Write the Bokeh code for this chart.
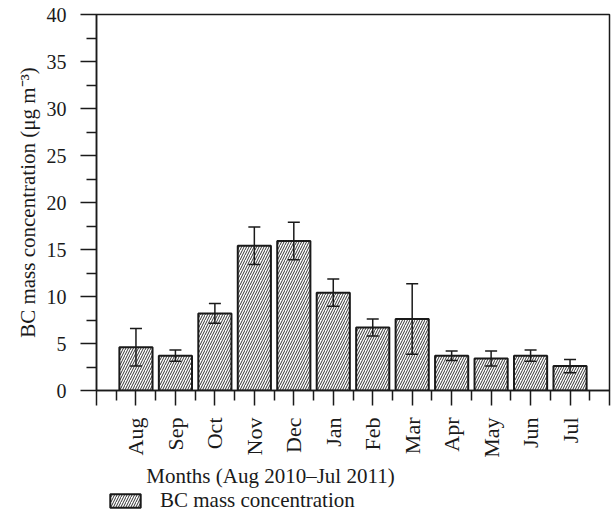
import math
from bokeh.plotting import figure
from bokeh.layouts import column
from bokeh.models import (ColumnDataSource, Range1d, FixedTicker, Whisker, TeeHead,
                          Label, Legend, LegendItem)
from bokeh.embed import file_html
from bokeh.resources import INLINE

months = ["Aug", "Sep", "Oct", "Nov", "Dec", "Jan", "Feb", "Mar", "Apr", "May", "Jun", "Jul"]
bc_mean = [4.6, 3.7, 8.2, 15.4, 15.9, 10.4, 6.7, 7.6, 3.7, 3.4, 3.7, 2.6]
bc_sd = [2.0, 0.6, 1.05, 2.0, 2.0, 1.45, 0.9, 3.75, 0.5, 0.8, 0.6, 0.7]
y_ticks = [0, 5, 10, 15, 20, 25, 30, 35, 40]
y_minor = [2.5, 7.5, 12.5, 17.5, 22.5, 27.5, 32.5, 37.5]

FONT = "Liberation Serif"
INK = "#1a1a1a"
BAR_STYLE = dict(fill_color="white", line_color=INK, line_width=2,
                 hatch_pattern="/", hatch_scale=5, hatch_color="#333333", hatch_weight=1)

pos = list(range(1, len(months) + 1))
lower = [m - s for m, s in zip(bc_mean, bc_sd)]
upper = [m + s for m, s in zip(bc_mean, bc_sd)]
src = ColumnDataSource(dict(x=pos, month=months, mean=bc_mean, lower=lower, upper=upper))

n_slots = len(months) + 1
p = figure(frame_width=513, frame_height=376,
           x_range=Range1d(0, n_slots), y_range=Range1d(0, 40),
           output_backend="svg", toolbar_location=None,
           min_border_left=96, min_border_right=6, min_border_top=14, min_border_bottom=75)
p.grid.visible = False
p.background_fill_color = "white"
p.border_fill_color = "white"
p.outline_line_color = INK
p.outline_line_width = 1.5

r = p.vbar(x="x", top="mean", bottom=0, width=0.84, source=src, **BAR_STYLE)

w = Whisker(base="x", upper="upper", lower="lower", source=src,
            line_color=INK, line_width=1.5, level="overlay",
            upper_head=TeeHead(size=12, line_width=1.5, line_color=INK),
            lower_head=TeeHead(size=12, line_width=1.5, line_color=INK))
p.add_layout(w)

# x axis
xa = p.xaxis[0]
xa.ticker = FixedTicker(ticks=list(range(0, n_slots + 1)),
                        minor_ticks=[i + 0.5 for i in range(n_slots)])
overrides = {i: "" for i in range(0, n_slots + 1)}
for i, m in zip(pos, months):
    overrides[i] = m
xa.major_label_overrides = overrides
xa.major_label_orientation = math.pi / 2
xa.major_tick_in = 0
xa.major_tick_out = 15
xa.minor_tick_in = 0
xa.minor_tick_out = 10
xa.major_label_standoff = 12
xa.axis_line_width = 1.5
xa.axis_line_color = INK
xa.major_tick_line_color = INK
xa.minor_tick_line_color = INK
xa.major_tick_line_width = 1.5
xa.minor_tick_line_width = 1.5
xa.major_label_text_font = FONT
xa.major_label_text_font_size = "22px"
xa.major_label_text_color = INK

# y axis
ya = p.yaxis[0]
ya.ticker = FixedTicker(ticks=y_ticks, minor_ticks=y_minor)
ya.major_tick_in = 0
ya.major_tick_out = 16
ya.minor_tick_in = 0
ya.minor_tick_out = 10
ya.major_label_standoff = 14
ya.axis_line_width = 1.5
ya.axis_line_color = INK
ya.major_tick_line_color = INK
ya.minor_tick_line_color = INK
ya.major_tick_line_width = 1.5
ya.minor_tick_line_width = 1.5
ya.major_label_text_font = FONT
ya.major_label_text_font_size = "20px"
ya.major_label_text_color = INK
ya.axis_label = "BC mass concentration (\u03bcg m\u207b\u00b3)"
ya.axis_label_text_font = FONT
ya.axis_label_text_font_size = "21px"
ya.axis_label_text_font_style = "normal"
ya.axis_label_text_color = INK
ya.axis_label_standoff = 4

# strip below the chart holding the x title and the legend
# (its frame is aligned with the main frame, so the range equals screen pixels)
p2 = figure(width=615, height=50, x_range=Range1d(96, 609), y_range=Range1d(50, 0),
            output_backend="svg", toolbar_location=None,
            min_border_left=0, min_border_right=0, min_border_top=0, min_border_bottom=0)
p2.axis.visible = False
p2.grid.visible = False
p2.outline_line_color = None
p2.background_fill_color = "white"
p2.border_fill_color = "white"

xt = Label(x=270, y=10, text="Months (Aug 2010\u2013Jul 2011)",
           text_align="center", text_baseline="middle",
           text_font=FONT, text_font_size="21px", text_color=INK)
p2.add_layout(xt)

nan = float("nan")
key = p2.vbar(x=[nan], top=[nan], width=1, **BAR_STYLE)
leg = Legend(items=[LegendItem(label="BC mass concentration", renderers=[key])],
             location=(10, 2), border_line_color=None, background_fill_alpha=0,
             padding=0, margin=0, glyph_width=38, glyph_height=17, label_height=17,
             label_standoff=16, label_text_font=FONT, label_text_font_size="21px",
             label_text_color=INK)
p2.add_layout(leg)

layout = column(p, p2, spacing=0)
open("out.html", "w").write(file_html(layout, INLINE))
